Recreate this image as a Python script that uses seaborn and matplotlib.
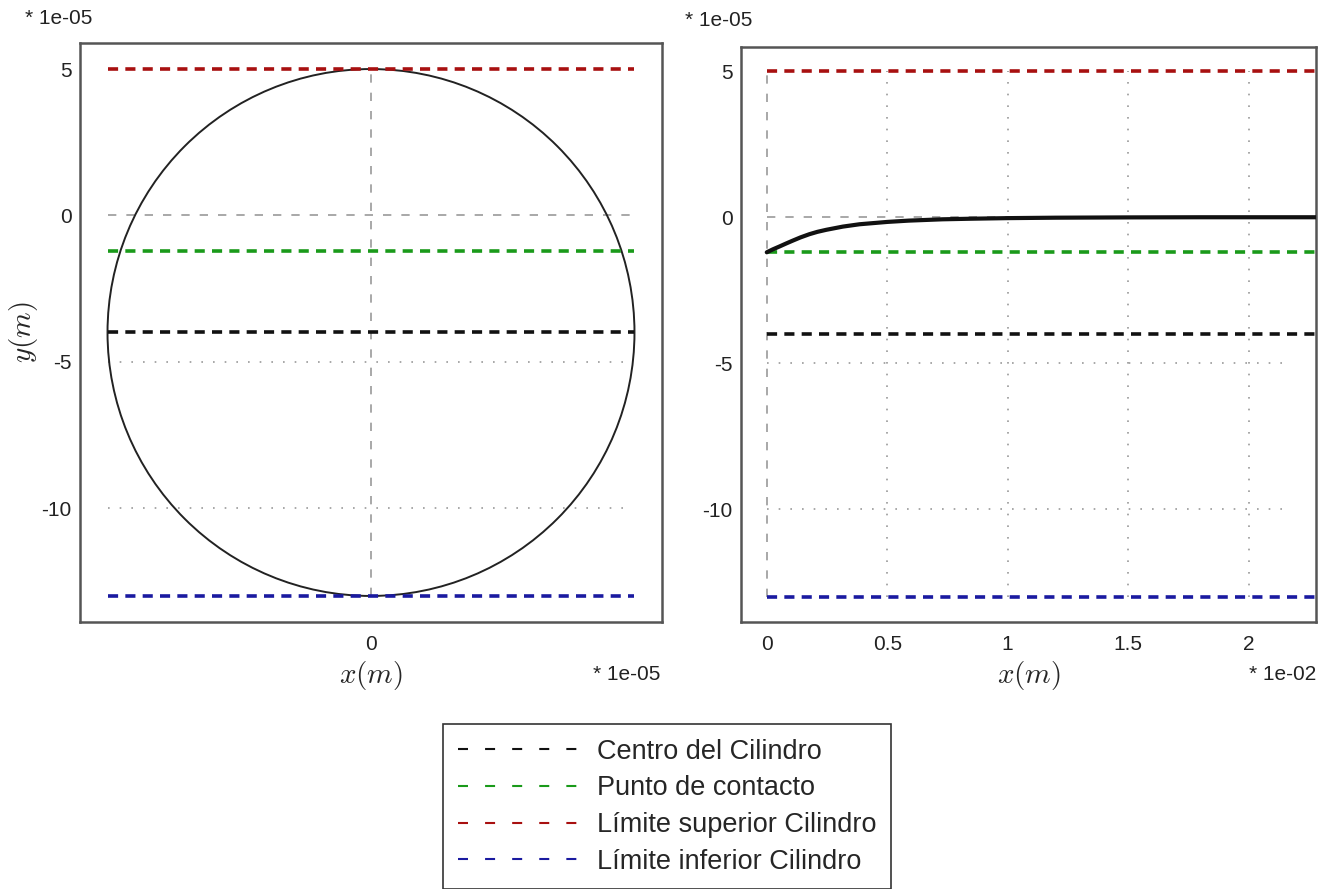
import numpy as np
import pandas as pd
import seaborn as sns
import matplotlib
matplotlib.use("Agg")
import matplotlib.pyplot as plt
from matplotlib.patches import Circle

# ---- data (y and left-x in units of 1e-05 m, right-x in units of 1e-02 m) ----
centro = -4.0
contacto = -1.2
lim_sup = 5.0
lim_inf = -13.0
ref_labels = ["Centro del Cilindro", "Punto de contacto",
              "Límite superior Cilindro", "Límite inferior Cilindro"]
ref_values = [centro, contacto, lim_sup, lim_inf]
ref_colors = ["#111111", "#1a9a1a", "#a81010", "#1a1aa0"]

curve_x = [0, 0.025, 0.053, 0.08, 0.108, 0.14, 0.177, 0.21, 0.247, 0.316, 0.385,
           0.5, 0.59, 0.73, 0.85, 1.0, 1.2, 1.5, 1.8, 2.3]
curve_y = [-1.2, -1.1, -1.0, -0.9, -0.8, -0.69, -0.58, -0.5, -0.43, -0.32, -0.24,
           -0.16, -0.115, -0.07, -0.05, -0.03, -0.015, -0.005, 0.0, 0.0]

left_yticks = [5, 0, -5, -10]
left_xticks = [0]
right_xticks = [0, 0.5, 1, 1.5, 2]
right_xticklabels = ["0", "0.5", "1", "1.5", "2"]

# ---- style ----
sns.set_style("white")
plt.rcParams["font.family"] = ["Liberation Sans", "DejaVu Sans"]
plt.rcParams["mathtext.fontset"] = "cm"

W, H = 1330, 889
fig = plt.figure(figsize=(W / 100, H / 100), dpi=100)

def px_axes(x0, y0, x1, y1):
    return fig.add_axes([x0 / W, 1 - y1 / H, (x1 - x0) / W, (y1 - y0) / H])

axL = px_axes(80, 43, 662, 622)
axR = px_axes(741, 47, 1316, 622)

GRAY = "#9a9a9a"
TICK_FS = 15
LAB_FS = 21
radius = (lim_sup - lim_inf) / 2.0

# ---------------- left panel ----------------
axL.set_xlim(-9.94, 9.94)
axL.set_ylim(-13.89, 5.89)
axL.vlines(0, lim_inf, lim_sup, colors=GRAY, lw=1.2, linestyles=(0, (5, 6)), zorder=1)
axL.hlines(0, -radius, radius * 0.985, colors=GRAY, lw=1.2, linestyles=(0, (5, 6)), zorder=1)
axL.hlines([-5, -10], -radius, radius * 0.985, colors=GRAY, lw=1.2, linestyles=(0, (1, 6)), zorder=1)

axL.add_patch(Circle((0, centro), radius, fill=False, ec="#222222", lw=1.4, zorder=3))

for lab, v, c in zip(ref_labels, ref_values, ref_colors):
    df = pd.DataFrame({"x": [-radius, radius], "y": [v, v]})
    sns.lineplot(data=df, x="x", y="y", ax=axL, color=c, lw=2.6,
                 dashes=(2.8, 2.0), label=lab, legend=False, zorder=4)

axL.set_xticks(left_xticks)
axL.set_xticklabels([str(t) for t in left_xticks])
axL.set_yticks(left_yticks)
axL.set_yticklabels([str(t) for t in left_yticks])
axL.set_xlabel(r"$x(m)$", fontsize=LAB_FS, labelpad=4)
axL.set_ylabel(r"$y(m)$", fontsize=LAB_FS, labelpad=1)

# ---------------- right panel ----------------
right_xmax = 2.28
axR.set_xlim(-0.107, right_xmax)
axR.set_ylim(-13.86, 5.83)
axR.vlines(0, lim_inf, lim_sup, colors=GRAY, lw=1.2, linestyles=(0, (5, 6)), zorder=1)
axR.hlines(0, 0, right_xmax, colors=GRAY, lw=1.2, linestyles=(0, (5, 6)), zorder=1)
axR.vlines(right_xticks[1:], lim_inf, lim_sup, colors=GRAY, lw=1.2, linestyles=(0, (1, 6)), zorder=1)
axR.hlines([-5, -10], 0, 2.16, colors=GRAY, lw=1.2, linestyles=(0, (1, 6)), zorder=1)

for lab, v, c in zip(ref_labels, ref_values, ref_colors):
    df = pd.DataFrame({"x": [0, right_xmax], "y": [v, v]})
    sns.lineplot(data=df, x="x", y="y", ax=axR, color=c, lw=2.6,
                 dashes=(2.8, 2.0), legend=False, zorder=4)

dfc = pd.DataFrame({"x": curve_x, "y": curve_y})
sns.lineplot(data=dfc, x="x", y="y", ax=axR, color="#111111", lw=3.0,
             legend=False, zorder=5, solid_capstyle="round")

axR.set_xticks(right_xticks)
axR.set_xticklabels(right_xticklabels)
axR.set_yticks(left_yticks)
axR.set_yticklabels([str(t) for t in left_yticks])
axR.set_xlabel(r"$x(m)$", fontsize=LAB_FS, labelpad=4)
axR.set_ylabel("")

for ax in (axL, axR):
    ax.tick_params(axis="both", length=0, labelsize=TICK_FS, colors="#222222")
    ax.tick_params(axis="y", pad=6)
    ax.tick_params(axis="x", pad=9)
    for sp in ax.spines.values():
        sp.set_color("#555555")
        sp.set_linewidth(1.8)
        sp.set_visible(True)

# multiplier annotations
fig.text(25 / W, 1 - 18 / H, "* 1e-05", fontsize=TICK_FS, ha="left", va="center", color="#222222")
fig.text(685 / W, 1 - 20 / H, "* 1e-05", fontsize=TICK_FS, ha="left", va="center", color="#222222")
fig.text(660 / W, 1 - 675 / H, "* 1e-05", fontsize=TICK_FS, ha="right", va="center", color="#222222")
fig.text(1316 / W, 1 - 675 / H, "* 1e-02", fontsize=TICK_FS, ha="right", va="center", color="#222222")

# legend
handles, labels = axL.get_legend_handles_labels()
leg = fig.legend(handles, labels, loc="upper center",
                 bbox_to_anchor=(667 / W, 1 - 724 / H), fontsize=19.5,
                 frameon=True, fancybox=False, edgecolor="black",
                 handlelength=4.4, handletextpad=0.75, labelspacing=0.39,
                 borderpad=0.55, borderaxespad=0)
leg.get_frame().set_linewidth(1.2)
for ln in leg.get_lines():
    ln.set_linewidth(1.5)
    ln.set_dashes((4.8, 8.2))

fig.savefig("out.png", dpi=100)
